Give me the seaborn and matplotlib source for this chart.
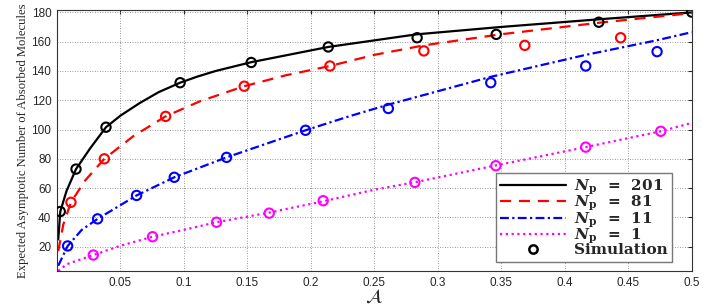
import numpy as np
import pandas as pd
import matplotlib
matplotlib.use("Agg")
import matplotlib.pyplot as plt
import seaborn as sns
from matplotlib.lines import Line2D

# Curves (analytical)
A_201 = [0.001, 0.0026, 0.0075, 0.015, 0.026, 0.0386, 0.05, 0.065, 0.08, 0.097, 0.11, 0.125, 0.153, 0.2137, 0.283, 0.349, 0.427, 0.5]
y_201 = [25, 44, 58, 73, 87, 101.6, 109.5, 118, 125.5, 132, 136, 140, 146, 156.4, 165, 170, 175.3, 180]

A_81 = [0.001, 0.005, 0.011, 0.022, 0.0373, 0.06, 0.0856, 0.1126, 0.1475, 0.18, 0.215, 0.25, 0.289, 0.349, 0.4276, 0.5]
y_81 = [17, 35.2, 50.3, 65, 80, 95.4, 109, 119.3, 129.6, 137, 143.4, 151, 157.5, 165, 173, 179.5]

A_11 = [0.001, 0.0084, 0.0194, 0.032, 0.0627, 0.0924, 0.1336, 0.1958, 0.23, 0.261, 0.3417, 0.4165, 0.4727, 0.5]
y_11 = [7, 20.5, 31.4, 39, 55, 67.4, 81, 99.5, 109, 117, 136, 151, 161, 166.5]

A_1 = [0.001, 0.0076, 0.0286, 0.0496, 0.0753, 0.1, 0.1257, 0.1672, 0.2097, 0.25, 0.2819, 0.3457, 0.4165, 0.4756, 0.5]
y_1 = [3.4, 8, 14.3, 20.5, 26.8, 31.5, 36.7, 43.3, 51, 58.9, 64, 75.5, 88, 98.8, 104.5]

# Simulation points
sA_201 = [0.0026, 0.015, 0.0386, 0.097, 0.153, 0.2137, 0.2837, 0.346, 0.4268, 0.5]
sy_201 = [44, 73, 101.6, 132, 145.8, 156.4, 162.7, 165, 173.3, 180.2]
sA_81 = [0.011, 0.0373, 0.0856, 0.1475, 0.215, 0.289, 0.3685, 0.444]
sy_81 = [50.3, 80, 109, 129.6, 143.4, 153.7, 157.5, 162.7]
sA_11 = [0.0084, 0.032, 0.0627, 0.0924, 0.1336, 0.1958, 0.261, 0.3417, 0.4165, 0.4727]
sy_11 = [20.5, 39, 55, 67.4, 81, 99.5, 114.4, 132, 143.4, 153.2]
sA_1 = [0.0286, 0.0753, 0.1257, 0.1672, 0.2097, 0.2819, 0.3457, 0.4165, 0.4756]
sy_1 = [14.3, 26.8, 36.7, 42.9, 51.4, 63.9, 75.3, 88, 98.8]

labels = ["201", "81", "11", "1"]

sns.set_style("white")
plt.rcParams["font.family"] = ["Liberation Sans", "DejaVu Sans"]
plt.rcParams["mathtext.fontset"] = "stix"

fig = plt.figure(figsize=(7.14, 3.05), dpi=100)
ax = fig.add_axes([0.0798, 0.1115, 0.889, 0.8555])

series = [
    (A_201, y_201, sA_201, sy_201, "black", "-"),
    (A_81, y_81, sA_81, sy_81, "red", (0, (5, 3.5))),
    (A_11, y_11, sA_11, sy_11, "blue", (0, (4, 1.5, 1, 1.5))),
    (A_1, y_1, sA_1, sy_1, "magenta", (0, (1, 1.6))),
]

for A, y, sA, sy, c, ls in series:
    sns.lineplot(x=A, y=y, ax=ax, color=c, linestyle=ls, linewidth=1.6, sort=False)
    sns.scatterplot(x=sA, y=sy, ax=ax, marker="o", s=45, facecolors="none",
                    edgecolor=c, linewidth=1.5, zorder=3)

ax.set_xlim(0, 0.5)
ax.set_ylim(3.4, 181.6)
ax.set_xticks(np.arange(0.05, 0.501, 0.05))
ax.set_xticklabels(["0.05", "0.1", "0.15", "0.2", "0.25", "0.3", "0.35", "0.4", "0.45", "0.5"])
ax.set_yticks(np.arange(20, 181, 20))
ax.tick_params(direction="in", length=3, labelsize=8.5, top=True, right=True, pad=4)
ax.grid(True, linestyle=(0, (1, 2)), color="#777777", linewidth=0.6)
for sp in ax.spines.values():
    sp.set_color("#333333")
    sp.set_linewidth(0.8)

xl = ax.set_xlabel(r"$\boldsymbol{\mathcal{A}}$", fontsize=14, labelpad=0)
xl.set_math_fontfamily("stix")
ax.set_ylabel("Expected Asymptotic Number of Absorbed Molecules",
              family="Liberation Serif", fontsize=9.1, labelpad=2)

handles = []
for (A, y, sA, sy, c, ls), lab in zip(series, labels):
    handles.append(Line2D([0], [0], color=c, linestyle=ls, linewidth=1.6,
                          label=r"$\boldsymbol{N}_{\mathbf{p}}\;\;\mathbf{=}\;\;\mathbf{" + lab + r"}$"))
handles.append(Line2D([0], [0], color="black", marker="o", linestyle="none",
                      markerfacecolor="none", markersize=6, markeredgewidth=1.8,
                      label="Simulation"))
leg = ax.legend(handles=handles, loc="lower right", handlelength=4.3,
                labelspacing=-0.18, borderpad=0.3, handletextpad=0.5,
                fancybox=False, edgecolor="#777777", framealpha=1,
                bbox_to_anchor=(0.981, 0.005),
                prop={"family": "DejaVu Serif", "weight": "bold", "size": 11})
for t in leg.get_texts():
    t.set_math_fontfamily("dejavuserif")
leg.get_frame().set_linewidth(1.0)

fig.savefig("out.png", dpi=100)
